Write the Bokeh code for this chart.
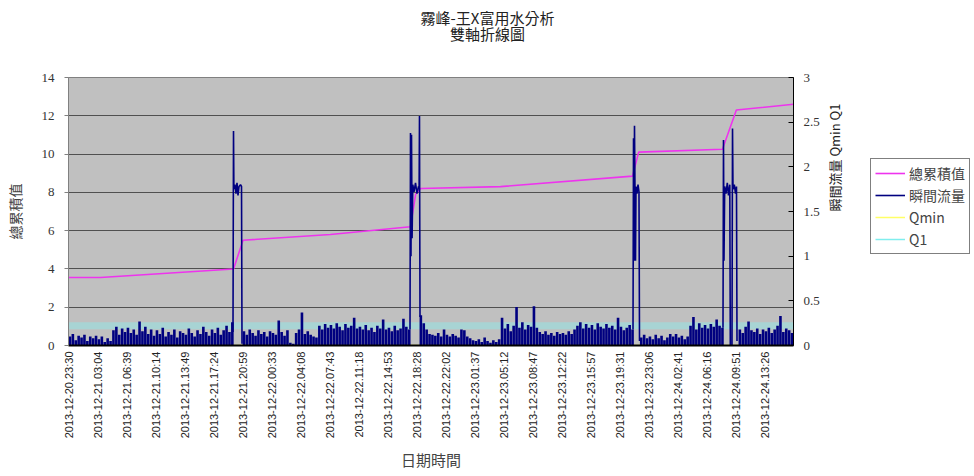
from math import pi

from bokeh.plotting import figure
from bokeh.layouts import row, column
from bokeh.models import Range1d, LinearAxis, FixedTicker, Legend, LegendItem
from bokeh.core.properties import value
from bokeh.embed import file_html
from bokeh.resources import INLINE

# ---- data -----------------------------------------------------------------
title_main = "霧峰-王X富用水分析"
title_sub = "雙軸折線圖"

# category labels (one every 10 readings of the flow record)
tick_labels = [
    "2013-12-20.23:30", "2013-12-21.03:04", "2013-12-21.06:39", "2013-12-21.10:14",
    "2013-12-21.13:49", "2013-12-21.17:24", "2013-12-21.20:59", "2013-12-22.00:33",
    "2013-12-22.04:08", "2013-12-22.07:43", "2013-12-22.11:18", "2013-12-22.14:53",
    "2013-12-22.18:28", "2013-12-22.22:02", "2013-12-23.01:37", "2013-12-23.05:12",
    "2013-12-23.08:47", "2013-12-23.12:22", "2013-12-23.15:57", "2013-12-23.19:31",
    "2013-12-23.23:06", "2013-12-24.02:41", "2013-12-24.06:16", "2013-12-24.09:51",
    "2013-12-24.13:26",
]

# cumulative total (left axis) - vertices of the polyline
total_x = [0.0, 1.10, 5.69, 6.02, 9.03, 11.79, 11.97, 12.14, 14.90, 19.45, 19.66, 22.55, 23.03, 25.0]
total_y = [3.55, 3.55, 4.00, 5.50, 5.80, 6.20, 7.90, 8.20, 8.30, 8.85, 10.10, 10.25, 12.30, 12.60]

# instantaneous flow (right axis), background readings, 10 per label step
flow_step = 0.1
flow_base = [
    0.10, 0.13, 0.06, 0.11, 0.09, 0.12, 0.05, 0.10, 0.08, 0.11,
    0.07, 0.10, 0.04, 0.08, 0.05, 0.17, 0.21, 0.12, 0.19, 0.15,
    0.20, 0.14, 0.18, 0.12, 0.27, 0.16, 0.21, 0.13, 0.18, 0.11,
    0.17, 0.13, 0.20, 0.10, 0.15, 0.12, 0.18, 0.09, 0.16, 0.14,
    0.12, 0.19, 0.14, 0.10, 0.17, 0.13, 0.21, 0.15, 0.11, 0.18,
    0.14, 0.20, 0.12, 0.17, 0.22, 0.15, 0.26, 0.00, 0.00, 0.00,
    0.16, 0.12, 0.18, 0.14, 0.11, 0.17, 0.13, 0.15, 0.10, 0.16,
    0.14, 0.12, 0.28, 0.15, 0.11, 0.17, 0.03, 0.02, 0.14, 0.18,
    0.37, 0.13, 0.16, 0.12, 0.10, 0.09, 0.22, 0.18, 0.24, 0.20,
    0.23, 0.19, 0.25, 0.21, 0.17, 0.24, 0.20, 0.22, 0.31, 0.19,
    0.21, 0.18, 0.23, 0.17, 0.20, 0.15, 0.22, 0.19, 0.29, 0.18,
    0.20, 0.16, 0.22, 0.17, 0.19, 0.30, 0.21, 0.18, 0.00, 0.00,
    0.00, 0.34, 0.25, 0.18, 0.13, 0.12, 0.11, 0.14, 0.10, 0.18,
    0.12, 0.10, 0.13, 0.11, 0.09, 0.18, 0.17, 0.10, 0.08, 0.06,
    0.05, 0.07, 0.04, 0.09, 0.05, 0.03, 0.06, 0.04, 0.07, 0.31,
    0.19, 0.24, 0.16, 0.22, 0.43, 0.20, 0.26, 0.18, 0.23, 0.21,
    0.44, 0.20, 0.15, 0.13, 0.16, 0.12, 0.14, 0.11, 0.15, 0.13,
    0.14, 0.12, 0.16, 0.13, 0.18, 0.22, 0.26, 0.19, 0.24, 0.20,
    0.23, 0.18, 0.25, 0.21, 0.19, 0.24, 0.20, 0.22, 0.18, 0.31,
    0.21, 0.17, 0.20, 0.23, 0.18, 0.00, 0.00, 0.09, 0.12, 0.08,
    0.10, 0.07, 0.12, 0.08, 0.11, 0.06, 0.09, 0.13, 0.10, 0.13,
    0.09, 0.11, 0.07, 0.10, 0.22, 0.32, 0.18, 0.25, 0.20, 0.23,
    0.19, 0.24, 0.21, 0.29, 0.22, 0.20, 0.00, 0.00, 0.00, 0.00,
    0.00, 0.18, 0.14, 0.21, 0.27, 0.17, 0.15, 0.19, 0.13, 0.18,
    0.16, 0.20, 0.14, 0.18, 0.22, 0.33, 0.15, 0.19, 0.17, 0.14,
]

# flow during the four filling events (dense readings)
event1_x = [5.672, 5.690, 5.703, 5.741, 5.776, 5.810, 5.845, 5.879, 5.931, 5.966, 5.983]
event1_y = [0.15, 2.40, 1.75, 1.80, 1.70, 1.82, 1.68, 1.78, 1.80, 1.78, 0.02]
event2_x = [11.776, 11.793, 11.810, 11.828, 11.848, 11.872, 11.914, 11.966, 12.017, 12.069, 12.090, 12.103, 12.121]
event2_y = [0.18, 2.38, 1.00, 2.36, 1.20, 1.80, 1.72, 1.82, 1.70, 1.78, 1.75, 2.57, 0.32]
event3_x = [19.466, 19.483, 19.500, 19.517, 19.534, 19.552, 19.569, 19.603, 19.638, 19.672, 19.690]
event3_y = [0.18, 2.32, 0.95, 2.46, 1.75, 0.95, 1.78, 1.70, 1.80, 1.72, 0.05]
event4_x = [22.569, 22.586, 22.603, 22.628, 22.672, 22.717, 22.759, 22.803, 22.821, 22.879,
            22.897, 22.914, 22.959, 23.000, 23.034, 23.052]
event4_y = [0.20, 2.30, 0.95, 1.78, 1.70, 1.82, 1.68, 1.80, 0.00, 0.00,
            2.43, 1.75, 1.80, 1.70, 1.78, 0.05]

# threshold lines (right axis)
qmin_level = 0.0
q1_level = 0.22

# series styles
TOTAL_STYLE = dict(line_color="#ee33ee", line_width=1.6)
FLOW_STYLE = dict(line_color="#000080", line_width=1.6)
QMIN_STYLE = dict(line_color="#ffff66", line_width=1.5)
Q1_STYLE = dict(line_color="#8fe8e8", line_width=7, line_alpha=0.5)
Q1_KEY_STYLE = dict(line_color="#80eeee", line_width=1.5)

TOP_H = 69       # height of the title strip
CHART_H = 476 - TOP_H

# ---- title strip ----------------------------------------------------------
top = figure(width=974, height=TOP_H, x_range=Range1d(0, 974), y_range=Range1d(0, TOP_H),
             output_backend="svg", toolbar_location=None, min_border=0)
top.axis.visible = False
top.grid.visible = False
top.outline_line_color = None
top.background_fill_color = "white"
top.border_fill_color = "white"
top.text(x=[487, 487], y=[TOP_H - 17, TOP_H - 33], text=[title_main, title_sub],
         text_align="center", text_baseline="middle",
         text_font=value("Noto Sans CJK TC"), text_font_size="15px", text_color="#222222")

# ---- main chart -----------------------------------------------------------
X_END = 25.0
p = figure(
    width=870, height=CHART_H,
    x_range=Range1d(0, X_END), y_range=Range1d(0, 14),
    output_backend="svg", toolbar_location=None,
    min_border_left=68, min_border_right=77, min_border_top=8, min_border_bottom=131,
)
p.extra_y_ranges = {"flow": Range1d(0, 3)}
p.background_fill_color = "#c0c0c0"
p.border_fill_color = "white"
p.outline_line_color = "#808080"
p.outline_line_width = 1

# x axis
p.xaxis.ticker = FixedTicker(ticks=list(range(len(tick_labels))))
p.xaxis.major_label_overrides = {i: s for i, s in enumerate(tick_labels)}
p.xaxis.major_label_orientation = pi / 2
p.xaxis.major_label_text_font = "Liberation Sans"
p.xaxis.major_label_text_font_size = "11px"
p.xaxis.major_label_text_color = "#222222"
p.xaxis.major_label_standoff = 6
p.xaxis.major_tick_out = 0
p.xaxis.major_tick_in = 0
p.xaxis.minor_tick_out = 0
p.xaxis.minor_tick_in = 0
p.xaxis.axis_line_color = "black"
p.xaxis.axis_line_width = 2
p.xaxis.axis_label = "日期時間"
p.xaxis.axis_label_text_font = "Noto Sans CJK TC"
p.xaxis.axis_label_text_font_size = "15px"
p.xaxis.axis_label_text_font_style = "normal"
p.xaxis.axis_label_standoff = 8

# left axis: cumulative total
p.yaxis.ticker = FixedTicker(ticks=list(range(0, 15, 2)))
p.yaxis.major_label_text_font = "Liberation Serif"
p.yaxis.major_label_text_font_size = "13px"
p.yaxis.major_label_text_color = "#333333"
p.yaxis.major_tick_out = 4
p.yaxis.major_tick_in = 0
p.yaxis.minor_tick_out = 0
p.yaxis.minor_tick_in = 0
p.yaxis.major_label_standoff = 10
p.yaxis.axis_line_color = "#808080"
p.yaxis.major_tick_line_color = "#808080"
p.yaxis.axis_label = "總累積值"
p.yaxis.axis_label_text_font = "Noto Sans CJK TC"
p.yaxis.axis_label_text_font_size = "14px"
p.yaxis.axis_label_text_font_style = "normal"
p.yaxis.axis_label_standoff = 14

# right axis: flow and thresholds
right_axis = LinearAxis(y_range_name="flow", ticker=FixedTicker(ticks=[0, 0.5, 1, 1.5, 2, 2.5, 3]))
right_axis.major_label_text_font = "Liberation Serif"
right_axis.major_label_text_font_size = "13px"
right_axis.major_label_text_color = "#333333"
right_axis.major_tick_in = 5
right_axis.major_tick_out = 0
right_axis.minor_tick_in = 0
right_axis.minor_tick_out = 0
right_axis.major_label_standoff = 10
right_axis.axis_line_color = "black"
right_axis.major_tick_line_color = "black"
right_axis.axis_label = "瞬間流量   Qmin   Q1"
right_axis.axis_label_text_font = "Noto Sans CJK TC"
right_axis.axis_label_text_font_size = "13px"
right_axis.axis_label_text_font_style = "normal"
right_axis.axis_label_text_color = "#222222"
right_axis.axis_label_standoff = 12
if "axis_label_orientation" in right_axis.properties():
    right_axis.axis_label_orientation = pi / 2
right_axis.axis_label_text_align = "center"
p.add_layout(right_axis, "right")

p.xgrid.visible = False
p.ygrid.ticker = FixedTicker(ticks=list(range(2, 14, 2)))
p.ygrid.grid_line_color = "#505050"
p.ygrid.grid_line_width = 1

# series
p.line([0, X_END], [q1_level, q1_level], y_range_name="flow", **Q1_STYLE)
p.line([0, X_END], [qmin_level, qmin_level], y_range_name="flow", **QMIN_STYLE)
p.line(total_x, total_y, **TOTAL_STYLE)

base_x = [flow_step / 2 + i * flow_step for i in range(len(flow_base))]
p.vbar(x=base_x, top=flow_base, bottom=0, width=flow_step * 0.9, y_range_name="flow",
       fill_color="#000080", line_color=None)
p.multi_line(xs=[event1_x, event2_x, event3_x, event4_x],
             ys=[event1_y, event2_y, event3_y, event4_y],
             y_range_name="flow", **FLOW_STYLE)

# ---- legend panel (frame aligned with the chart's plot area) --------------
lg = figure(width=104, height=CHART_H, x_range=Range1d(0, 1), y_range=Range1d(0, 1),
            output_backend="svg", toolbar_location=None,
            min_border_left=0, min_border_right=0, min_border_top=8, min_border_bottom=131)
lg.axis.visible = False
lg.grid.visible = False
lg.outline_line_color = None
lg.background_fill_color = "white"
lg.border_fill_color = "white"

keys = [
    ("總累積值", lg.line([0, 0], [0, 0], **TOTAL_STYLE)),
    ("瞬間流量", lg.line([0, 0], [0, 0], **FLOW_STYLE)),
    ("Qmin", lg.line([0, 0], [0, 0], **QMIN_STYLE)),
    ("Q1", lg.line([0, 0], [0, 0], **Q1_KEY_STYLE)),
]
legend = Legend(
    items=[LegendItem(label=name, renderers=[r]) for name, r in keys],
    location=(0, 91),
    border_line_color="black", border_line_width=1,
    background_fill_color="white", background_fill_alpha=1,
    label_text_font="Noto Sans CJK TC", label_text_font_size="14px",
    label_height=18, glyph_width=30, glyph_height=14, label_standoff=4,
    spacing=2, padding=4, margin=0,
)
lg.add_layout(legend, "center")

layout = column(top, row(p, lg, spacing=0), spacing=0)
open("out.html", "w").write(file_html(layout, INLINE))
